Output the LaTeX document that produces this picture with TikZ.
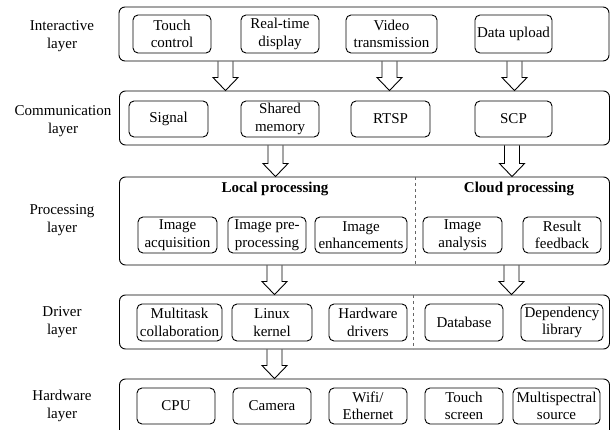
\documentclass[tikz,border=0pt]{standalone}
\usepackage{fontspec}
\setmainfont{Liberation Serif}
\usetikzlibrary{calc}
\tikzset{
  layerbox/.style={draw, line width=0.9pt, rounded corners=6pt, minimum width=490pt, inner sep=0pt},
  itembox/.style={draw, line width=0.9pt, rounded corners=5pt, align=center, inner sep=0pt,
    font=\fontsize{15pt}{17.5pt}\selectfont},
  layerlabel/.style={align=center, inner sep=0pt, font=\fontsize{15pt}{17.5pt}\selectfont},
  grouptitle/.style={inner sep=0pt, font=\fontsize{15pt}{17.5pt}\selectfont\bfseries},
  divider/.style={draw=black!60, dashed, line width=0.7pt},
  arrowshape/.style={draw, line width=0.9pt, line join=miter}
}
\newcommand{\blockarrow}[3]{%
  \path let \p1=(#2.south), \p2=(#3.north) in
    [arrowshape] ({#1pt-7.5pt},\y1) -- ({#1pt-7.5pt},{\y2+13pt}) -- ({#1pt-12.5pt},{\y2+13pt})
    -- (#1pt,\y2) -- ({#1pt+12.5pt},{\y2+13pt}) -- ({#1pt+7.5pt},{\y2+13pt}) -- ({#1pt+7.5pt},\y1);}
\begin{document}
\begin{tikzpicture}[x=1pt,y=-1pt]
\useasboundingbox (0,0) rectangle (611,430);
\clip (0,0) rectangle (611,430);
% layer boxes
\node[layerbox, minimum height=54pt] (L1) at (364,34) {};
\node[layerbox, minimum height=54pt] (L2) at (364.5,118) {};
\node[layerbox, minimum height=88pt] (L3) at (364.5,221) {};
\node[layerbox, minimum height=54pt] (L4) at (364.5,322) {};
\node[layerbox, minimum height=66pt] (L5) at (364.5,412) {};
% layer labels
\node[layerlabel] (t1) at (62,36) {Interactive\\layer};
\node[layerlabel] (t2) at (63,121) {Communication\\layer};
\node[layerlabel] (t3) at (62,220) {Processing\\layer};
\node[layerlabel] (t4) at (62,322) {Driver\\layer};
\node[layerlabel] (t5) at (62,406) {Hardware\\layer};
% interactive layer
\node[itembox, minimum width=78pt, minimum height=38pt] (a1) at (172,34) {Touch\\control};
\node[itembox, minimum width=78pt, minimum height=38pt] (a2) at (280,34) {Real-time\\display};
\node[itembox, minimum width=91pt, minimum height=38pt] (a3) at (391.5,34) {Video\\transmission};
\node[itembox, minimum width=77pt, minimum height=38pt] (a4) at (513.5,34) {Data upload};
% communication layer
\node[itembox, minimum width=79pt, minimum height=36pt] (b1) at (168.5,119) {Signal};
\node[itembox, minimum width=78pt, minimum height=36pt] (b2) at (280,119) {Shared\\memory};
\node[itembox, minimum width=79pt, minimum height=36pt] (b3) at (390.5,119) {RTSP};
\node[itembox, minimum width=77pt, minimum height=36pt] (b4) at (513.5,119) {SCP};
% processing layer
\node[grouptitle] (g1) at (275,189) {Local processing};
\node[grouptitle] (g2) at (519,189) {Cloud processing};
\node[itembox, minimum width=79pt, minimum height=36pt] (c1) at (177.5,235) {Image\\acquisition};
\node[itembox, minimum width=78pt, minimum height=36pt] (c2) at (267,235) {Image pre-\\processing};
\node[itembox, minimum width=92pt, minimum height=36pt] (c3) at (361,235) {Image\\enhancements};
\node[itembox, minimum width=79pt, minimum height=36pt] (c4) at (462.5,235) {Image\\analysis};
\node[itembox, minimum width=78pt, minimum height=36pt] (c5) at (562,235) {Result\\feedback};
\coordinate (d3t) at (415,177);
\coordinate (d3b) at (415,265);
\draw[divider] (d3t) -- (d3b);
% driver layer
\node[itembox, minimum width=85pt, minimum height=37pt] (e1) at (179.5,322.5) {Multitask\\collaboration};
\node[itembox, minimum width=80pt, minimum height=37pt] (e2) at (272,322.5) {Linux\\kernel};
\node[itembox, minimum width=78pt, minimum height=37pt] (e3) at (368,322.5) {Hardware\\drivers};
\node[itembox, minimum width=78pt, minimum height=37pt] (e4) at (464,322.5) {Database};
\node[itembox, minimum width=82pt, minimum height=37pt] (e5) at (562,322.5) {Dependency\\library};
\coordinate (d4t) at (413,295);
\coordinate (d4b) at (413,349);
\draw[divider] (d4t) -- (d4b);
% hardware layer
\node[itembox, minimum width=78pt, minimum height=36pt] (f1) at (176,406) {CPU};
\node[itembox, minimum width=78pt, minimum height=36pt] (f2) at (272,406) {Camera};
\node[itembox, minimum width=78pt, minimum height=36pt] (f3) at (368,406) {Wifi/\\Ethernet};
\node[itembox, minimum width=78pt, minimum height=36pt] (f4) at (464,406) {Touch\\screen};
\node[itembox, minimum width=87pt, minimum height=36pt] (f5) at (556.5,406) {Multispectral\\source};
% arrows
\blockarrow{225.5}{L1}{L2}
\blockarrow{389.5}{L1}{L2}
\blockarrow{514.5}{L1}{L2}
\blockarrow{275.5}{L2}{L3}
\blockarrow{512}{L2}{L3}
\blockarrow{274.5}{L3}{L4}
\blockarrow{511.5}{L3}{L4}
\blockarrow{274.5}{L4}{L5}
\end{tikzpicture}
\end{document}
